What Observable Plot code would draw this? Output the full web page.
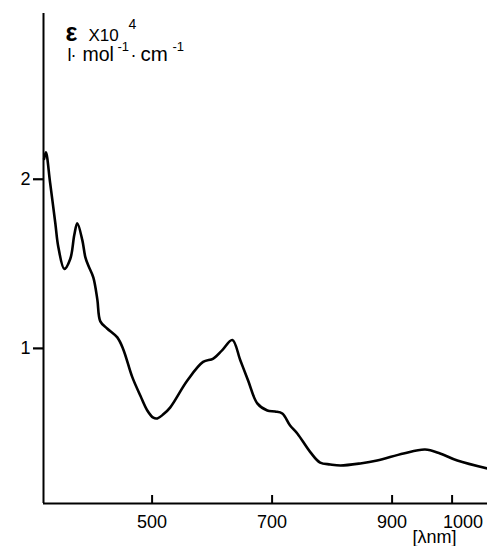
<!DOCTYPE html>
<html>
<head>
<meta charset="utf-8">
<script src="https://cdn.jsdelivr.net/npm/d3@7"></script>
<script src="https://cdn.jsdelivr.net/npm/@observablehq/plot@0.6"></script>
<style>
  html, body { margin: 0; padding: 0; background: #fff; }
  svg { display: block; }
</style>
</head>
<body>
<div id="chart"></div>
<script>
// Wavelength (nm) and molar absorptivity (x10^4 l·mol-1·cm-1)
const wavelength = [320, 323, 330, 338.7, 343.7, 353.7, 363.7, 370.3, 375.3, 383.7, 388.7, 393.7, 402, 408.7, 413.7, 425, 442, 452, 467, 480.5, 492, 502, 508.7, 518.7, 530, 558.7, 585, 602, 617, 633.7, 647, 660, 675.3, 692, 705, 717, 730, 742, 764, 780, 797, 814, 847, 875, 919, 955, 980, 1008.7, 1059];
const epsilon = [2.12, 2.16, 1.98, 1.74, 1.60, 1.47, 1.53, 1.67, 1.74, 1.64, 1.54, 1.49, 1.42, 1.29, 1.16, 1.118, 1.065, 0.994, 0.83, 0.72, 0.633, 0.59, 0.586, 0.61, 0.65, 0.81, 0.92, 0.94, 0.99, 1.05, 0.93, 0.81, 0.675, 0.633, 0.627, 0.615, 0.544, 0.497, 0.385, 0.325, 0.314, 0.308, 0.32, 0.337, 0.379, 0.402, 0.379, 0.337, 0.29];

const xTicks = [500, 700, 900];
const xTickLast = [1000];
const yTicks = [1, 2];
const xDomain = [319, 1059];
const yDomain = [0.083, 2.98];

const data = wavelength.map((w, i) => ({w, e: epsilon[i]}));
const allXTicks = xTicks.concat(xTickLast);
const tickLen = 8 / 169; // inward tick length expressed on the y scale
const fmt = d => String(d);

const font = "'Liberation Sans', Arial, sans-serif";

// annotation helper: text placed relative to the frame's top-left corner
const note = (t, dx, dy, size, extra = {}) =>
  Plot.text([t], {frameAnchor: "top-left", dx, dy, lineAnchor: "bottom", textAnchor: "start", fontSize: size, ...extra});

const chart = Plot.plot({
  width: 487,
  height: 546,
  marginTop: 13,
  marginLeft: 43,
  marginRight: 0,
  marginBottom: 43,
  style: {fontFamily: font, background: "#fff", color: "#000"},
  x: {domain: xDomain},
  y: {domain: yDomain},
  marks: [
    // axis lines
    Plot.ruleX([xDomain[0]], {stroke: "#000", strokeWidth: 2}),
    Plot.ruleY([yDomain[0]], {stroke: "#000", strokeWidth: 2}),
    // inward x ticks
    Plot.ruleX(allXTicks, {x: d => d, y1: yDomain[0], y2: yDomain[0] + tickLen, stroke: "#000", strokeWidth: 2}),
    Plot.axisX(xTicks, {tickSize: 0, tickPadding: 12, fontSize: 18, tickFormat: fmt, label: null}),
    Plot.axisX(xTickLast, {tickSize: 0, tickPadding: 12, fontSize: 18, dx: 11, tickFormat: fmt, label: null}),
    Plot.axisY(yTicks, {tickSize: 10, tickPadding: 3, fontSize: 18, strokeWidth: 2.2, tickFormat: fmt, label: null}),
    // the spectrum
    Plot.line(data, {x: "w", y: "e", curve: "catmull-rom", stroke: "#000", strokeWidth: 2.6, strokeLinejoin: "round"}),
    // y label: ε x10^4, l·mol-1·cm-1
    note("ε", 22, 27, 25, {fontWeight: "bold"}),
    note("X10", 45, 27, 17),
    note("4", 85, 15, 14),
    note("l", 24, 47, 18),
    note("·", 30, 47, 18, {textAnchor: "middle"}),
    note("mol", 39, 47, 19.5),
    note("-1", 74, 37, 13),
    note("·", 90, 47, 18, {textAnchor: "middle"}),
    note("cm", 97, 47, 20.5),
    note("-1", 129, 37, 13),
    // x label
    Plot.text(["[λnm]"], {frameAnchor: "bottom-right", dx: -53, dy: 39, lineAnchor: "bottom", textAnchor: "middle", fontSize: 18})
  ]
});

document.getElementById("chart").appendChild(chart);
</script>
</body>
</html>
